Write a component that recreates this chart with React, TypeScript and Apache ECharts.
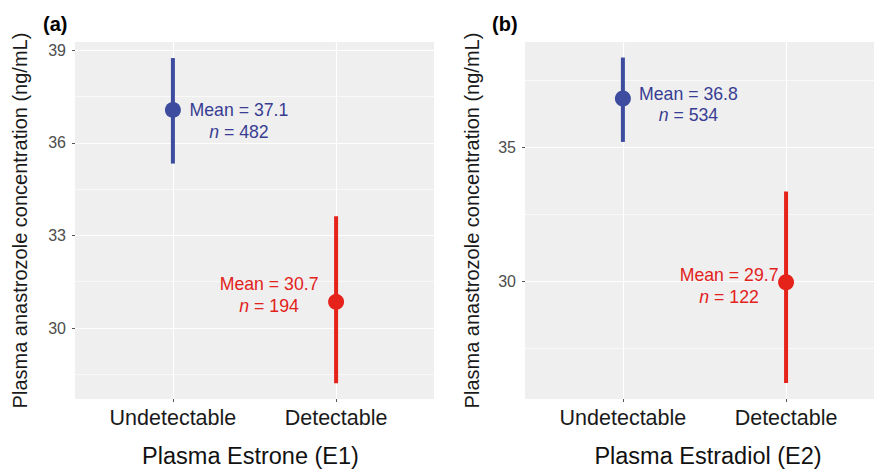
import React, { useEffect, useRef } from "react";
import * as echarts from "echarts";

const groups = ["Undetectable", "Detectable"];
const panelTags = ["(a)", "(b)"];
const xTitles = ["Plasma Estrone (E1)", "Plasma Estradiol (E2)"];
const yTitle = "Plasma anastrozole concentration (ng/mL)";

// Panel (a): Plasma Estrone
const meansA = [37.07, 30.85];
const lowsA = [35.33, 28.21];
const highsA = [38.75, 33.62];
const meanTextA = ["37.1", "30.7"];
const nA = [482, 194];
const yTicksA = [30, 33, 36, 39];
const yMinorA = [28.5, 31.5, 34.5, 37.5];
const yRangeA = [27.7, 39.27];
const xRangeA = [0.4, 2.6];

// Panel (b): Plasma Estradiol (right side of the panel is cut by the image edge)
const meansB = [36.83, 29.97];
const lowsB = [35.21, 26.21];
const highsB = [38.36, 33.36];
const meanTextB = ["36.8", "29.7"];
const nB = [534, 122];
const yTicksB = [30, 35];
const yMinorB = [27.5, 32.5, 37.5];
const yRangeB = [25.61, 38.94];
const xRangeB = [0.4, 2.539];

const xPositions = [1, 2];

const COLORS = ["#3D4C9F", "#E5231B"];
const TEXT_COLORS = ["#383D93", "#E2221B"];
const FONT = "'Liberation Sans', Arial, Helvetica, sans-serif";

const labelOffsets = [
  [
    [66, 11],
    [-67, -7],
  ],
  [
    [65.5, 6],
    [-57, 4],
  ],
];
const titlePadding = [
  [0, 8, 0, 0],
  [0, 0, 0, 17],
];

function buildPanel(
  idx: number,
  means: number[],
  lows: number[],
  highs: number[],
  meanText: string[],
  ns: number[],
  yTicks: number[],
  yMinor: number[],
  yRange: number[],
  xRange: number[],
  yNameGap: number
) {
  const grid = {
    left: idx === 0 ? 75 : 525,
    top: 42,
    width: idx === 0 ? 359 : 349,
    height: 360,
    show: true,
    backgroundColor: "#EFEFEF",
    borderWidth: 0,
    containLabel: false,
  };
  const xAxis = {
    type: "value",
    gridIndex: idx,
    min: xRange[0],
    max: xRange[1],
    axisLine: { show: false },
    splitLine: { show: false },
    axisTick: {
      show: true,
      length: 3,
      lineStyle: { color: "#555", width: 1 },
      customValues: xPositions,
    },
    axisLabel: {
      customValues: xPositions,
      formatter: (v: number) => groups[Math.round(v) - 1] ?? "",
      fontSize: 21.5,
      fontFamily: FONT,
      color: "#1A1A1A",
      margin: 8,
    },
    name: xTitles[idx],
    nameLocation: "middle",
    nameGap: 45,
    nameTextStyle: {
      fontSize: 23.5,
      fontFamily: FONT,
      color: "#111",
      padding: titlePadding[idx],
    },
  };
  const yAxis = {
    type: "value",
    gridIndex: idx,
    min: yRange[0],
    max: yRange[1],
    axisLine: { show: false },
    splitLine: { show: false },
    axisTick: {
      show: true,
      length: 3,
      lineStyle: { color: "#555", width: 1 },
      customValues: yTicks,
    },
    axisLabel: {
      customValues: yTicks,
      fontSize: 16,
      fontFamily: FONT,
      color: "#4D4D4D",
      margin: 9,
    },
    name: yTitle,
    nameLocation: "middle",
    nameRotate: 90,
    nameGap: yNameGap,
    nameTextStyle: { fontSize: 20, fontFamily: FONT, color: "#1A1A1A" },
  };

  const gridLineData = [
    ...yTicks.map((v) => ({ yAxis: v, lineStyle: { color: "#FFFFFF", width: 1.2, type: "solid" } })),
    ...yMinor.map((v) => ({ yAxis: v, lineStyle: { color: "#FFFFFF", width: 0.6, type: "solid" } })),
    ...xPositions.map((v) => ({ xAxis: v, lineStyle: { color: "#FFFFFF", width: 1.2, type: "solid" } })),
  ];

  const series: any[] = [
    {
      type: "line",
      xAxisIndex: idx,
      yAxisIndex: idx,
      data: [],
      silent: true,
      markLine: {
        silent: true,
        symbol: ["none", "none"],
        label: { show: false },
        z: 1,
        data: gridLineData,
      },
    },
  ];

  groups.forEach((g, gi) => {
    series.push({
      type: "line",
      name: g + " range",
      xAxisIndex: idx,
      yAxisIndex: idx,
      data: [
        [xPositions[gi], lows[gi]],
        [xPositions[gi], highs[gi]],
      ],
      symbol: "none",
      silent: true,
      z: 3,
      lineStyle: { color: COLORS[gi], width: 4, cap: "butt" },
    });
  });

  series.push({
    type: "scatter",
    xAxisIndex: idx,
    yAxisIndex: idx,
    symbolSize: 16,
    z: 4,
    data: groups.map((g, gi) => ({
      name: g,
      value: [xPositions[gi], means[gi]],
      itemStyle: { color: COLORS[gi], opacity: 1 },
      label: {
        show: true,
        position: "inside",
        align: "center",
        verticalAlign: "middle",
        offset: labelOffsets[idx][gi],
        formatter: `{m|Mean = ${meanText[gi]}}\n{i|n}{m| = ${ns[gi]}}`,
        rich: {
          m: { fontSize: 17.7, lineHeight: 21.5, fontFamily: FONT, color: TEXT_COLORS[gi] },
          i: {
            fontSize: 17.7,
            lineHeight: 21.5,
            fontFamily: FONT,
            fontStyle: "italic",
            color: TEXT_COLORS[gi],
          },
        },
      },
    })),
  });

  return { grid, xAxis, yAxis, series };
}

export default function App() {
  const ref = useRef<HTMLDivElement>(null);
  useEffect(() => {
    if (!ref.current) return;
    const chart = echarts.init(ref.current, undefined, { renderer: "svg" });
    const a = buildPanel(0, meansA, lowsA, highsA, meanTextA, nA, yTicksA, yMinorA, yRangeA, xRangeA, 45);
    const b = buildPanel(1, meansB, lowsB, highsB, meanTextB, nB, yTicksB, yMinorB, yRangeB, xRangeB, 43);
    chart.setOption({
      animation: false,
      backgroundColor: "#FFFFFF",
      textStyle: { fontFamily: FONT },
      grid: [a.grid, b.grid],
      xAxis: [a.xAxis, b.xAxis],
      yAxis: [a.yAxis, b.yAxis],
      series: [...a.series, ...b.series],
      graphic: [
        {
          type: "text",
          left: 43,
          top: 14,
          style: { text: panelTags[0], fontSize: 20, fontWeight: "bold", fontFamily: FONT, fill: "#000" },
        },
        {
          type: "text",
          left: 492,
          top: 14,
          style: { text: panelTags[1], fontSize: 20, fontWeight: "bold", fontFamily: FONT, fill: "#000" },
        },
      ],
    });
    return () => chart.dispose();
  }, []);
  return (
    <div
      ref={ref}
      style={{ position: "absolute", left: 0, top: 0, width: 874, height: 473 }}
    />
  );
}
